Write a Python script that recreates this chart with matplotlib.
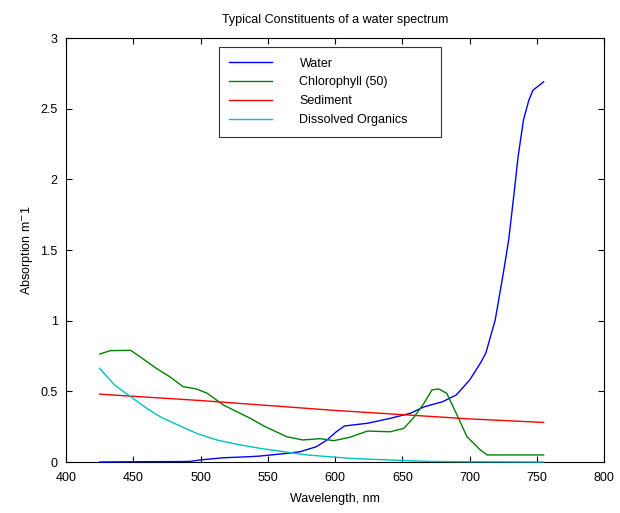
import numpy as np
import matplotlib
matplotlib.use("Agg")
import matplotlib.pyplot as plt

plt.rcParams["font.family"] = ["Liberation Sans", "DejaVu Sans"]

# values (wavelength nm, absorption m^-1)
water_nm = [425, 450, 480, 492, 500, 517, 537, 544, 564, 574, 586, 594, 601,
            607, 624, 641, 656, 666, 680, 690, 700, 708, 712, 719, 725, 729,
            733, 736, 740, 744, 747, 755]
water_abs = [0.0, 0.002, 0.003, 0.004, 0.015, 0.03, 0.038, 0.042, 0.061, 0.073,
             0.108, 0.156, 0.215, 0.255, 0.274, 0.309, 0.345, 0.39, 0.427,
             0.474, 0.58, 0.70, 0.77, 1.005, 1.335, 1.57, 1.90, 2.16, 2.42,
             2.56, 2.63, 2.69]

chl_nm = [425, 433, 448, 455, 467, 477, 487, 497, 505, 517, 527, 537, 547,
          564, 576, 589, 599, 611, 624, 641, 651, 658, 666, 672, 677, 683,
          690, 698, 708, 713, 755]
chl_abs = [0.764, 0.788, 0.79, 0.745, 0.663, 0.604, 0.533, 0.517, 0.486,
           0.403, 0.356, 0.309, 0.255, 0.179, 0.156, 0.165, 0.151, 0.175,
           0.219, 0.214, 0.238, 0.309, 0.415, 0.51, 0.517, 0.486, 0.345,
           0.179, 0.085, 0.05, 0.05]

sed_nm = [425, 500, 550, 600, 650, 700, 755]
sed_abs = [0.48, 0.435, 0.40, 0.365, 0.335, 0.305, 0.28]

dom_nm = [425, 436, 448, 460, 470, 482, 497, 512, 527, 544, 579, 611, 641,
          671, 700, 755]
dom_abs = [0.663, 0.545, 0.462, 0.38, 0.32, 0.267, 0.203, 0.156, 0.125,
           0.097, 0.05, 0.026, 0.014, 0.004, 0.002, 0.0]

FS = 9

fig = plt.figure(figsize=(6.2, 5.13), dpi=100)
ax = fig.add_axes([0.1065, 0.0994, 0.868, 0.8265])

line_kw = dict(lw=1, zorder=3, clip_on=False)
ax.plot(water_nm, water_abs, color="#0000ff", label="Water", **line_kw)
ax.plot(chl_nm, chl_abs, color="#008000", label="Chlorophyll (50)", **line_kw)
ax.plot(sed_nm, sed_abs, color="#ff0000", label="Sediment", **line_kw)
ax.plot(dom_nm, dom_abs, color="#00c0c0", label="Dissolved Organics", **line_kw)

ax.set_xlim(400, 800)
ax.set_ylim(0, 3)
ax.set_xticks(np.arange(400, 801, 50))
ax.set_yticks([0, 0.5, 1, 1.5, 2, 2.5, 3])
ax.set_yticklabels(["0", "0.5", "1", "1.5", "2", "2.5", "3"])
ax.tick_params(direction="in", top=True, right=True, length=4,
               labelsize=FS, width=0.8)
ax.tick_params(axis="x", pad=7)
ax.tick_params(axis="y", pad=6)
for s in ax.spines.values():
    s.set_linewidth(0.8)

ax.set_xlabel("Wavelength, nm", fontsize=FS, labelpad=7)
ax.set_ylabel("Absorption m$^{-}$1", fontsize=FS, labelpad=4)
ax.set_title("Typical Constituents of a water spectrum", fontsize=FS, pad=11)

leg = ax.legend(loc="upper left", bbox_to_anchor=(0.284, 0.979, 0.413, 0.0),
                mode="expand", fontsize=FS, frameon=True, fancybox=False,
                edgecolor="black", handlelength=3.4, handletextpad=2.2,
                labelspacing=0.55, borderpad=0.85, borderaxespad=0)
leg.get_frame().set_linewidth(0.8)

fig.savefig("out.png", dpi=100)
